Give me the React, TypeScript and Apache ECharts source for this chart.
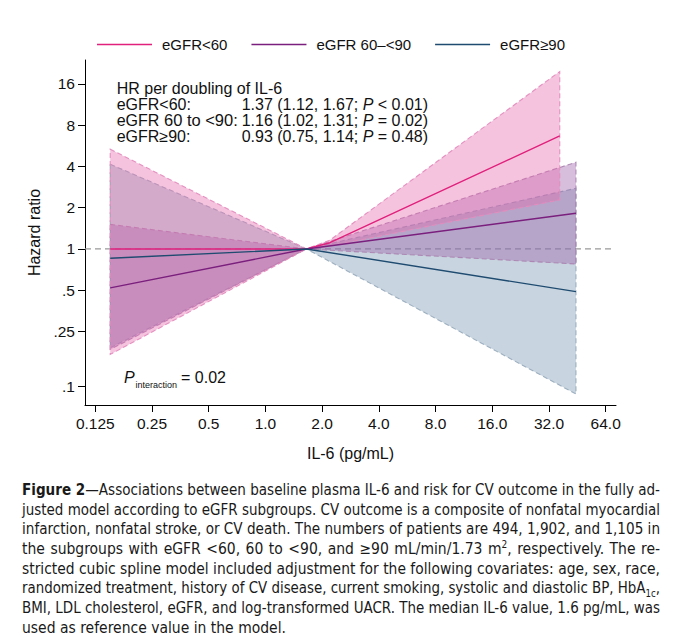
import React, { useEffect, useRef } from "react";
import * as echarts from "echarts";

const FONT = "'Liberation Sans', Arial, Helvetica, sans-serif";

// Axis ticks (natural units; plotted on log2 scale)
const xTickValues = [0.125, 0.25, 0.5, 1, 2, 4, 8, 16, 32, 64];
const xTickLabels = ["0.125", "0.25", "0.5", "1.0", "2.0", "4.0", "8.0", "16.0", "32.0", "64.0"];
const yTickValues = [0.1, 0.25, 0.5, 1, 2, 4, 8, 16];
const yTickLabels = [".1", ".25", ".5", "1", "2", "4", "8", "16"];
const xRange = [0.1102, 72.6];
const yRange = [0.0727, 23.9];

const seriesNames = ["eGFR<60", "eGFR 60–<90", "eGFR≥90"];

// eGFR<60
const il6Low = [0.15, 1.65, 2.2, 36.5];
const hrLow = [1.0, 1.0, 1.11, 6.68];
const hrLowUpper = [5.34, 1.0, 1.16, 19.7];
const hrLowLower = [0.17, 1.0, 1.05, 2.28];

// eGFR 60–<90
const il6Mid = [0.15, 1.65, 44.5];
const hrMid = [0.52, 1.0, 1.82];
const hrMidUpper = [1.51, 1.0, 4.29];
const hrMidLower = [0.185, 1.0, 0.777];

// eGFR≥90
const il6High = [0.15, 1.65, 44.5];
const hrHigh = [0.855, 1.0, 0.488];
const hrHighUpper = [4.15, 1.0, 2.77];
const hrHighLower = [0.19, 1.0, 0.0875];

// Reference line
const refHR = 1;
const refFrom = 0.1102;
const refTo = 70;

// Annotation
const annTitle = "HR per doubling of IL-6";
const annEstimates = ["1.37 (1.12, 1.67; ", "1.16 (1.02, 1.31; ", "0.93 (0.75, 1.14; "];
const annP = [" < 0.01)", " = 0.02)", " = 0.48)"];
const pInteraction = "0.02";

const L = (v: number) => Math.log2(v);

function band(name: string, xs: number[], lo: number[], hi: number[], fill: string, stroke: string, z: number) {
  return {
    type: "custom",
    name,
    silent: true,
    z,
    clip: true,
    data: [[L(xs[0]), L(lo[0])]],
    renderItem: (_p: any, api: any) => {
      const pts: number[][] = [];
      for (let i = 0; i < xs.length; i++) pts.push(api.coord([L(xs[i]), L(hi[i])]));
      for (let i = xs.length - 1; i >= 0; i--) pts.push(api.coord([L(xs[i]), L(lo[i])]));
      return {
        type: "polygon",
        shape: { points: pts },
        style: { fill, stroke, lineWidth: 1.1, lineDash: [5, 3] },
      };
    },
  };
}

function line(name: string, xs: number[], ys: number[], color: string) {
  return {
    type: "line",
    name,
    data: xs.map((x, i) => [L(x), L(ys[i])]),
    symbol: "none",
    z: 6,
    lineStyle: { color, width: 1.4 },
    itemStyle: { color },
  };
}

const CAP_W = 638;
const captionStyle: React.CSSProperties = {
  textAlign: "justify",
  textAlignLast: "justify",
  height: "19.7px",
  lineHeight: "19.7px",
  whiteSpace: "nowrap",
  transformOrigin: "left center",
};

export default function App() {
  const ref = useRef<HTMLDivElement>(null);
  const capRef = useRef<HTMLDivElement>(null);

  useEffect(() => {
    const box = capRef.current;
    if (!box) return;
    Array.from(box.children).forEach((node, i, arr) => {
      const el = node as HTMLDivElement;
      el.style.display = "inline-block";
      el.style.width = "auto";
      const w = el.getBoundingClientRect().width;
      el.style.display = "block";
      const s = Math.min(1, CAP_W / w);
      el.style.width = i === arr.length - 1 ? "auto" : `${CAP_W / s}px`;
      el.style.transform = `scaleX(${s})`;
    });
  }, []);

  useEffect(() => {
    if (!ref.current) return;
    const chart = echarts.init(ref.current, undefined, { renderer: "svg" });
    const xt = xTickValues.map(L);
    const yt = yTickValues.map(L);
    const fmt = (vals: number[], labels: string[]) => (v: number) => {
      const i = vals.findIndex((t) => Math.abs(t - v) < 1e-6);
      return i >= 0 ? labels[i] : "";
    };
    const textBase = { fontFamily: FONT, fill: "#111", verticalAlign: "middle", lineHeight: 15 };
    const rowsY = [88.5, 104, 120, 136.5];
    const graphics: any[] = [
      { type: "text", x: 116.7, y: rowsY[0], style: { ...textBase, text: annTitle, fontSize: 16 } },
      { type: "text", x: 116.7, y: rowsY[1], style: { ...textBase, text: "eGFR<60:", fontSize: 16 } },
      {
        type: "text",
        x: 116.7,
        y: rowsY[2],
        style: {
          ...textBase,
          text: "{a|eGFR}{b| 60 to <90:}",
          fontSize: 16,
          rich: {
            a: { fontSize: 16, fontFamily: FONT, lineHeight: 15 },
            b: { fontSize: 16.5, fontFamily: FONT, lineHeight: 15 },
          },
        },
      },
      { type: "text", x: 116.7, y: rowsY[3], style: { ...textBase, text: "eGFR≥90:", fontSize: 16 } },
      ...annEstimates.map((e, i) => ({
        type: "text",
        x: 241.7,
        y: rowsY[i + 1],
        style: {
          ...textBase,
          fontSize: 16,
          text: `${e}{i|P}${annP[i]}`,
          rich: { i: { fontStyle: "italic", fontSize: 16, fontFamily: FONT, lineHeight: 15 } },
        },
      })),
      { type: "text", x: 124, y: 377, style: { ...textBase, text: "P", fontSize: 16, fontStyle: "italic" } },
      { type: "text", x: 135.5, y: 385, style: { ...textBase, text: "interaction", fontSize: 9, lineHeight: 10 } },
      { type: "text", x: 181, y: 377, style: { ...textBase, text: `= ${pInteraction}`, fontSize: 16 } },
    ];
    chart.setOption({
      animation: false,
      backgroundColor: "#fff",
      grid: { left: 85, right: 64, top: 60, bottom: 65, containLabel: false },
      legend: {
        data: seriesNames,
        left: 92,
        top: 32,
        icon: "rect",
        itemWidth: 55,
        itemHeight: 1.6,
        itemGap: 24,
        textStyle: { fontSize: 15, fontFamily: FONT, color: "#111", padding: [0, 0, 0, 5] },
      },
      xAxis: {
        type: "value",
        min: L(xRange[0]),
        max: L(xRange[1]),
        name: "IL-6 (pg/mL)",
        nameLocation: "middle",
        nameGap: 40,
        nameTextStyle: { fontSize: 16, fontFamily: FONT, color: "#111" },
        axisLine: { show: true, onZero: false, lineStyle: { color: "#000", width: 1 } },
        axisTick: { show: true, length: 7, customValues: xt, lineStyle: { color: "#000" } },
        axisLabel: { customValues: xt, formatter: fmt(xt, xTickLabels), fontSize: 15.5, fontFamily: FONT, color: "#111", margin: 10 },
        splitLine: { show: false },
      },
      yAxis: {
        type: "value",
        min: L(yRange[0]),
        max: L(yRange[1]),
        name: "Hazard ratio",
        nameLocation: "middle",
        nameGap: 36,
        nameTextStyle: { fontSize: 16, fontFamily: FONT, color: "#111" },
        axisLine: { show: true, onZero: false, lineStyle: { color: "#000", width: 1 } },
        axisTick: { show: true, length: 7, customValues: yt, lineStyle: { color: "#000" } },
        axisLabel: { customValues: yt, formatter: fmt(yt, yTickLabels), fontSize: 15.5, fontFamily: FONT, color: "#111", margin: 10 },
        splitLine: { show: false },
      },
      graphic: graphics,
      series: [
        {
          type: "line",
          name: "reference",
          data: [
            [L(refFrom), L(refHR)],
            [L(refTo), L(refHR)],
          ],
          symbol: "none",
          z: 1,
          silent: true,
          lineStyle: { color: "#999", width: 1.2, type: [6, 4] },
        },
        band("eGFR≥90 CI", il6High, hrHighLower, hrHighUpper, "rgba(118,150,178,0.4)", "rgba(150,168,186,0.9)", 2),
        band("eGFR 60–<90 CI", il6Mid, hrMidLower, hrMidUpper, "rgba(155,92,167,0.4)", "rgba(170,130,175,0.9)", 3),
        band("eGFR<60 CI", il6Low, hrLowLower, hrLowUpper, "rgba(230,105,173,0.4)", "rgba(228,140,190,0.95)", 4),
        line(seriesNames[0], il6Low, hrLow, "#e0207c"),
        line(seriesNames[1], il6Mid, hrMid, "#7a1f7d"),
        line(seriesNames[2], il6High, hrHigh, "#1f4b70"),
      ],
    });
    return () => chart.dispose();
  }, []);

  return (
    <div style={{ position: "absolute", left: 0, top: 0, width: 680, height: 642, background: "#fff", overflow: "hidden" }}>
      <div ref={ref} style={{ width: 680, height: 470 }} />
      <div
        ref={capRef}
        style={{
          position: "absolute",
          left: 22,
          top: 481,
          width: CAP_W,
          fontFamily: "'Liberation Sans Narrow', 'DejaVu Sans Condensed', 'Liberation Sans', sans-serif",
          fontSize: "15.5px",
          color: "#1a1a1a",
        }}
      >
        <div style={captionStyle}>
          <b>Figure 2</b>—Associations between baseline plasma IL-6 and risk for CV outcome in the fully ad-
        </div>
        <div style={captionStyle}>
          justed model according to eGFR subgroups. CV outcome is a composite of nonfatal myocardial
        </div>
        <div style={captionStyle}>
          infarction, nonfatal stroke, or CV death. The numbers of patients are 494, 1,902, and 1,105 in
        </div>
        <div style={captionStyle}>
          the subgroups with eGFR &lt;60, 60 to &lt;90, and ≥90 mL/min/1.73 m
          <sup style={{ fontSize: "10px", lineHeight: 0 }}>2</sup>, respectively. The re-
        </div>
        <div style={captionStyle}>
          stricted cubic spline model included adjustment for the following covariates: age, sex, race,
        </div>
        <div style={captionStyle}>
          randomized treatment, history of CV disease, current smoking, systolic and diastolic BP, HbA
          <sub style={{ fontSize: "10px", lineHeight: 0 }}>1c</sub>,
        </div>
        <div style={captionStyle}>
          BMI, LDL cholesterol, eGFR, and log-transformed UACR. The median IL-6 value, 1.6 pg/mL, was
        </div>
        <div style={{ ...captionStyle, textAlignLast: "left" }}>used as reference value in the model.</div>
      </div>
    </div>
  );
}
